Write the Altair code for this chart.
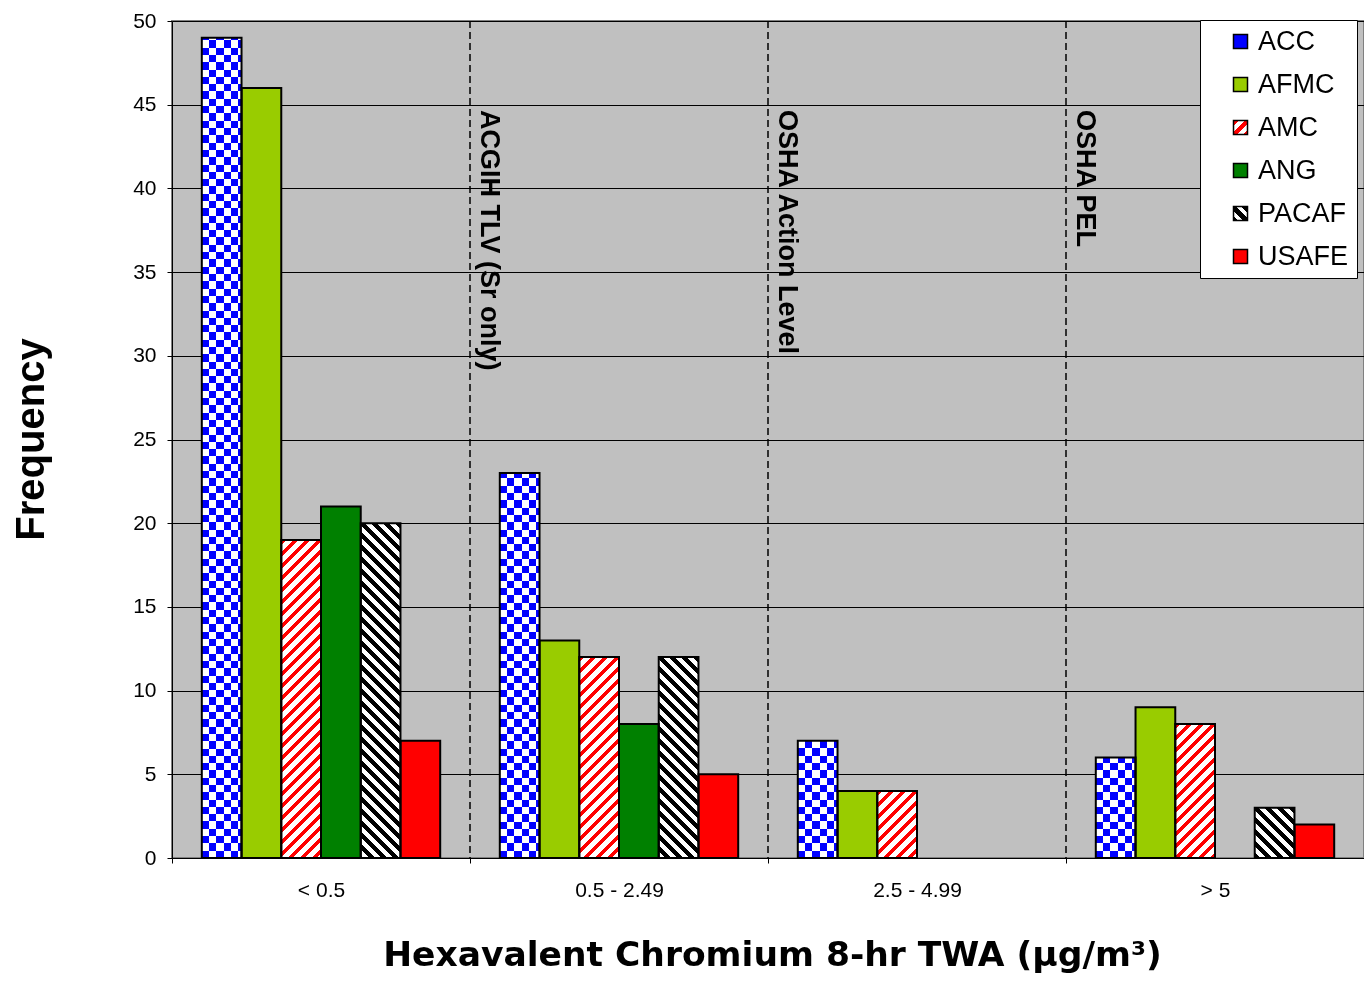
import altair as alt
import pandas as pd

# ---------------- data ----------------
categories = ["< 0.5", "0.5 - 2.49", "2.5 - 4.99", "> 5"]
series = ["ACC", "AFMC", "AMC", "ANG", "PACAF", "USAFE"]
acc = [49, 23, 7, 6]
afmc = [46, 13, 4, 9]
amc = [19, 12, 4, 8]
ang = [21, 8, 0, 0]
pacaf = [20, 12, 0, 3]
usafe = [7, 5, 0, 2]
y_ticks = list(range(0, 51, 5))
limit_labels = ["ACGIH TLV (Sr only)", "OSHA Action Level", "OSHA PEL"]
limit_after = ["0.5 - 2.49", "2.5 - 4.99", "> 5"]   # limit line sits at the left edge of this bin

values_by_series = dict(zip(series, [acc, afmc, amc, ang, pacaf, usafe]))
df = pd.DataFrame(
    [{"cat": c, "series": s, "value": v}
     for s in series for c, v in zip(categories, values_by_series[s])]
)
ann = pd.DataFrame({"cat": limit_after, "label": limit_labels})

# ---------------- geometry (style only) ----------------
W, H, YMAX = 1192, 837, 50
BAR_W = W / len(categories) / (len(series) + 1.5)
PX = H / YMAX
FONT = "Liberation Sans"
CELL = 7.3      # checker cell size (px)
PERIOD = 12.0   # diagonal stripe period (px)
SYM = 14        # legend symbol side (px)


def hard_stops(length_px, seg_px_list, colors, scale_px):
    """Build hard-edged stops along a gradient; offsets = position/scale_px."""
    stops = []
    pos = 0.0
    i = 0
    while pos < length_px and i < 4000:
        seg = seg_px_list[i % len(seg_px_list)]
        col = colors[i % len(colors)]
        a = min(pos / scale_px, 1.0)
        b = min((pos + seg) / scale_px, 1.0)
        stops.append({"offset": round(a, 5), "color": col})
        stops.append({"offset": round(b, 5), "color": col})
        pos += seg
        i += 1
        if b >= 1.0:
            break
    return stops


def diag_gradient(w, h, color, frac, slash=True):
    scale = (w * w + h * h) / w
    segs = [PERIOD * frac, PERIOD * (1 - frac)]
    stops = hard_stops(w + h, segs, [color, "#FFFFFF"], scale)
    if slash:
        return {"gradient": "linear", "x1": 0, "y1": 0, "x2": 1, "y2": h / w, "stops": stops}
    return {"gradient": "linear", "x1": 1, "y1": 0, "x2": 0, "y2": h / w, "stops": stops}


def as_expr(grad):
    stops = ", ".join("{offset: %s, color: '%s'}" % (s["offset"], s["color"]) for s in grad["stops"])
    return alt.ExprRef(expr="{gradient: 'linear', x1: %s, y1: %s, x2: %s, y2: %s, stops: [%s]}" % (
        grad["x1"], grad["y1"], grad["x2"], grad["y2"], stops))


# legend swatches: solid colours, striped swatches for the hatched series
legend_fills = [
    "#0000FF",
    "#99CC00",
    as_expr(diag_gradient(SYM, SYM, "#FF0000", 0.42, True)),
    "#008000",
    as_expr(diag_gradient(SYM, SYM, "#000000", 0.5, False)),
    "#FF0000",
]

# ---------------- encodings ----------------
x_scale = alt.Scale(domain=categories, paddingInner=0, paddingOuter=0)
x_axis = alt.Axis(
    title="Hexavalent Chromium 8-hr TWA (μg/m³)", titleFont="DejaVu Sans",
    titleFontSize=34.5, titleFontWeight="bold",
    titleX=600, titleY=107, titleBaseline="alphabetic", titleColor="black",
    labelFontSize=21, labelPadding=16, labelAngle=0, labelColor="black",
    tickBand="extent", tickSize=5, tickColor="black", domainColor="black", grid=False,
)
y_axis = alt.Axis(
    title="Frequency", values=y_ticks, titleFontSize=40, titleFontWeight="bold",
    titleAngle=270, titleX=-141, titleY=418, titleBaseline="middle", titleAlign="center",
    titleColor="black", labelFontSize=21, labelPadding=11, labelColor="black",
    tickSize=5, tickColor="black", domainColor="black",
    grid=True, gridColor="black", gridWidth=1,
)
x_enc = alt.X("cat:N", sort=categories, scale=x_scale, axis=x_axis)
x_edge = alt.X("cat:N", sort=categories, scale=x_scale, axis=x_axis, bandPosition=0)
xo_enc = alt.XOffset("series:N", sort=series,
                     scale=alt.Scale(domain=series, paddingInner=0, paddingOuter=0.75))
y_enc = alt.Y("value:Q", scale=alt.Scale(domain=[0, YMAX], nice=False), axis=y_axis)

base = alt.Chart(df).transform_filter("datum.value > 0")


def one_bar(cat, ser, **kw):
    return (alt.Chart(df)
            .transform_filter((alt.datum.cat == cat) & (alt.datum.series == ser))
            .mark_bar(**kw)
            .encode(x=x_enc, xOffset=xo_enc, y=y_enc))


layers = []

# solid bars + legend
layers.append(base.mark_bar().encode(
    x=x_enc, xOffset=xo_enc, y=y_enc,
    color=alt.Color("series:N", sort=series,
                    scale=alt.Scale(domain=series, range=legend_fills),
                    legend=alt.Legend(
                        title=None, orient="none", legendX=1028, legendY=-1,
                        fillColor="white", strokeColor="black", padding=8,
                        symbolOffset=19, labelOffset=4, rowPadding=15,
                        labelFontSize=27, labelColor="black", symbolType="square",
                        symbolSize=SYM * SYM, symbolStrokeColor="black", symbolStrokeWidth=1.5,
                        symbolOpacity=1)),
))

# ACC checkerboard: vertical stripes, xor horizontal stripes, then tint blue
vert = {"gradient": "linear", "x1": 0, "y1": 0, "x2": 1, "y2": 0,
        "stops": hard_stops(BAR_W, [CELL], ["#000000", "#FFFFFF"], BAR_W)}
layers.append(base.transform_filter(alt.datum.series == "ACC").mark_bar(fill=vert)
              .encode(x=x_enc, xOffset=xo_enc, y=y_enc))
for c, v in zip(categories, acc):
    if v > 0:
        h = v * PX
        horiz = {"gradient": "linear", "x1": 0, "y1": 1, "x2": 0, "y2": 0,
                 "stops": hard_stops(h, [CELL], ["#000000", "#FFFFFF"], h)}
        layers.append(one_bar(c, "ACC", fill=horiz, blend="difference"))
layers.append(base.transform_filter(alt.datum.series == "ACC").mark_bar(fill="#0000FF", blend="screen")
              .encode(x=x_enc, xOffset=xo_enc, y=y_enc))

# AMC red "/" stripes, PACAF black "\" stripes
for c, v in zip(categories, amc):
    if v > 0:
        layers.append(one_bar(c, "AMC", fill=diag_gradient(BAR_W, v * PX, "#FF0000", 0.42, True)))
for c, v in zip(categories, pacaf):
    if v > 0:
        layers.append(one_bar(c, "PACAF", fill=diag_gradient(BAR_W, v * PX, "#000000", 0.5, False)))

# outlines
layers.append(base.mark_bar(fillOpacity=0, stroke="black", strokeWidth=2)
              .encode(x=x_enc, xOffset=xo_enc, y=y_enc))

# limit lines and labels
layers.append(alt.Chart(ann).mark_rule(color="black", strokeDash=[7, 4], strokeWidth=1.5)
              .encode(x=x_edge))
layers.append(alt.Chart(ann).mark_text(angle=90, align="left", baseline="bottom", dy=-5,
                                       fontSize=27, fontWeight="bold", color="black")
              .encode(x=x_edge, y=alt.value(89), text="label:N"))

chart = (alt.layer(*layers)
         .properties(width=W, height=H, autosize="none",
                     padding={"left": 172, "top": 21, "right": 0, "bottom": 124})
         .configure(font=FONT)
         .configure_view(fill="#C0C0C0", stroke="#808080", strokeWidth=2))

chart.save("out.html", embed_options={"renderer": "svg", "actions": False})
